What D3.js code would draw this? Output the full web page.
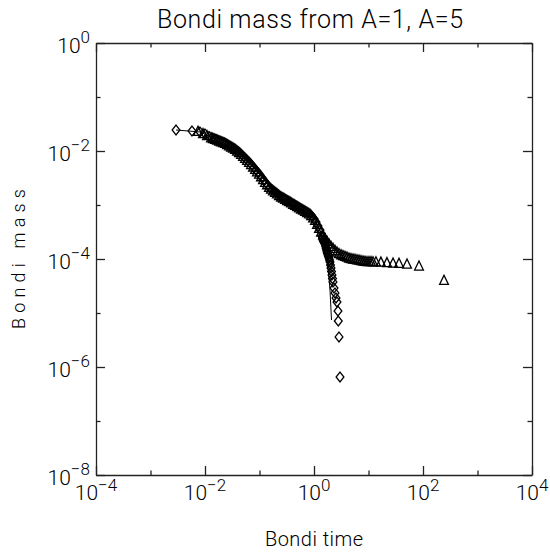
<!DOCTYPE html>
<html>
<head>
<meta charset="utf-8">
<script src="https://cdn.jsdelivr.net/npm/d3@7"></script>
<style>
  html, body { margin: 0; padding: 0; background: #fff; }
  svg text { font-family: 'Roboto', 'DejaVu Sans', sans-serif; font-weight: 300; fill: #000; }
</style>
</head>
<body>
<svg class="bondi" width="550" height="553"></svg>
<script>
// A=1 run (diamonds)
const a1Time = [0.00294, 0.00577, 0.00809, 0.0100, 0.01184,
  0.013441, 0.014625, 0.015914, 0.017317, 0.018844, 0.020505, 0.022312, 0.024279, 0.026419, 0.028748,
  0.031282, 0.034039, 0.03704, 0.040305, 0.043858, 0.047724, 0.051931, 0.056508, 0.061489, 0.066909,
  0.072809, 0.079227, 0.086211, 0.09381, 0.10208, 0.11108, 0.12087, 0.13153, 0.14312, 0.15574,
  0.16947, 0.18441, 0.20067, 0.21836, 0.23761, 0.25855, 0.28135, 0.30615, 0.33314, 0.3631,
  0.3951, 0.43, 0.4679, 0.5091, 0.5534, 0.6022, 0.6553, 0.7131, 0.776, 0.8444,
  0.9189, 1.0, 1.0882, 1.1841, 1.2885, 1.402, 1.432, 1.462, 1.493, 1.525,
  1.558, 1.592, 1.626, 1.661, 1.696, 1.733, 1.769, 1.806, 1.845, 1.884,
  1.925, 1.966, 2.008, 2.05, 2.095, 2.138, 2.185, 2.231, 2.327, 2.427,
  2.535, 2.642, 2.754, 2.79, 2.877, 3.0];
const a1Mass = [0.0245, 0.0234, 0.0225, 0.0207, 0.01864,
  0.01756, 0.01697, 0.0164, 0.01585, 0.01532, 0.01481, 0.01431, 0.01371, 0.01303, 0.01238,
  0.01176, 0.01117, 0.01052, 0.00983, 0.00918, 0.00843, 0.00774, 0.00711, 0.00653, 0.00599,
  0.00541, 0.00489, 0.00441, 0.00398, 0.00359, 0.00319, 0.00283, 0.00253, 0.00229, 0.00206,
  0.00193, 0.0018, 0.00168, 0.00157, 0.00147, 0.00139, 0.00133, 0.00126, 0.0012, 0.00114,
  0.00108, 0.00103, 9.75e-4, 9.26e-4, 8.8e-4, 8.36e-4, 7.94e-4, 7.55e-4, 7.17e-4, 6.81e-4,
  6.15e-4, 5.55e-4, 4.84e-4, 4.08e-4, 3.44e-4, 2.67e-4, 2.45e-4, 2.25e-4, 2.15e-4, 2.07e-4,
  1.98e-4, 1.9e-4, 1.74e-4, 1.6e-4, 1.47e-4, 1.35e-4, 1.26e-4, 1.19e-4, 1.11e-4, 1.04e-4,
  9.58e-5, 8.8e-5, 7.74e-5, 6.81e-5, 5.87e-5, 5.06e-5, 4.36e-5, 3.75e-5, 2.9e-5, 2.35e-5,
  1.9e-5, 1.6e-5, 1.09e-5, 7.11e-6, 3.6e-6, 6.53e-7];

// A=5 run (triangles)
const a5Time = [0.00745, 0.00919, 0.010882, 0.012885,
  0.01402, 0.015256, 0.016601, 0.018064, 0.019656, 0.021389, 0.023275, 0.025326, 0.027559, 0.029988,
  0.032632, 0.035508, 0.038638, 0.042044, 0.04575, 0.049783, 0.054171, 0.058946, 0.064142, 0.069797,
  0.07595, 0.082645, 0.08993, 0.097858, 0.10649, 0.11587, 0.12609, 0.1372, 0.1493, 0.16246,
  0.17678, 0.19237, 0.20933, 0.22778, 0.24786, 0.26971, 0.29349, 0.31936, 0.34751, 0.3788,
  0.4122, 0.4485, 0.4881, 0.5311, 0.5773, 0.6282, 0.6836, 0.7439, 0.8095, 0.8809,
  0.9585, 1.0432, 1.1352, 1.2352, 1.3441, 1.4625, 1.5914, 1.7317, 1.8844, 2.0505,
  2.2312, 2.4279, 2.6419, 2.8748, 3.1282, 3.4039, 3.704, 4.0305, 4.3858, 4.7724,
  5.1931, 5.6508, 6.1489, 6.6909, 7.2809, 7.9227, 8.6211, 9.381, 10.208, 11.108,
  12.087, 13.7, 16.9, 21.8, 28.2, 36.3, 50.9, 84.5, 243];
const a5Mass = [0.0234, 0.02136, 0.01962, 0.01786,
  0.01726, 0.01668, 0.01612, 0.01558, 0.01506, 0.01455, 0.01406, 0.01336, 0.0127, 0.01207,
  0.01147, 0.01089, 0.01017, 0.0095, 0.0088, 0.00808, 0.00742, 0.00681, 0.00626, 0.0057,
  0.00514, 0.00464, 0.00419, 0.00378, 0.00339, 0.003, 0.00267, 0.00241, 0.00217, 0.002,
  0.00186, 0.00174, 0.00163, 0.00152, 0.00143, 0.00136, 0.00129, 0.00123, 0.00117, 0.00111,
  0.00105, 0.001, 9.5e-4, 9.03e-4, 8.58e-4, 8.15e-4, 7.74e-4, 7.36e-4, 6.99e-4, 6.48e-4,
  5.85e-4, 5.27e-4, 4.45e-4, 3.75e-4, 3.22e-4, 2.81e-4, 2.45e-4, 2.17e-4, 1.93e-4, 1.74e-4,
  1.6e-4, 1.47e-4, 1.37e-4, 1.28e-4, 1.22e-4, 1.18e-4, 1.14e-4, 1.1e-4, 1.06e-4, 1.035e-4,
  1.017e-4, 1.0e-4, 9.83e-5, 9.66e-5, 9.5e-5, 9.34e-5, 9.18e-5, 9.14e-5, 9.11e-5, 9.07e-5,
  9.03e-5, 8.99e-5, 8.87e-5, 8.69e-5, 8.54e-5, 8.43e-5, 8.18e-5, 7.52e-5, 4.08e-5];

// solid reference curve
const lineTime = [0.00294, 0.00809, 0.01884, 0.04385, 0.1021, 0.2377, 0.5534, 1.042, 1.288, 1.462,
  1.592, 1.733, 1.806, 1.884, 1.966, 2.008, 2.05, 2.095];
const lineMass = [0.0245, 0.0225, 0.01531, 0.00918, 0.0036, 0.00147, 8.8e-4, 5.27e-4, 3.44e-4, 2.25e-4,
  1.6e-4, 1.04e-4, 6.81e-5, 4.45e-5, 2.67e-5, 1.74e-5, 1.14e-5, 7.42e-6];

// axis ticks
const xMajor = [1e-4, 1e-2, 1e0, 1e2, 1e4];
const xMinor = [1e-3, 1e-1, 1e1, 1e3];
const xExp = ['\u22124', '\u22122', '0', '2', '4'];
const yMajor = [1e0, 1e-2, 1e-4, 1e-6, 1e-8];
const yMinor = [1e-1, 1e-3, 1e-5, 1e-7];
const yExp = ['0', '\u22122', '\u22124', '\u22126', '\u22128'];

function draw() {
  const left = 96, right = 532, top = 43, bottom = 475;
  const svg = d3.select('svg.bondi');

  const x = d3.scaleLog().domain([1e-4, 1e4]).range([left, right]);
  const y = d3.scaleLog().domain([1e0, 1e-8]).range([top, bottom]);

  // frame with inward ticks on all four sides
  const axes = [
    {gen: d3.axisBottom(x), tr: `translate(0,${bottom})`, maj: xMajor, min: xMinor},
    {gen: d3.axisTop(x), tr: `translate(0,${top})`, maj: xMajor, min: xMinor},
    {gen: d3.axisLeft(y), tr: `translate(${left},0)`, maj: yMajor, min: yMinor},
    {gen: d3.axisRight(y), tr: `translate(${right},0)`, maj: yMajor, min: yMinor}
  ];
  axes.forEach(a => {
    const g = svg.append('g').attr('transform', a.tr);
    g.call(a.gen.tickValues(a.maj).tickSizeInner(-9).tickSizeOuter(0).tickFormat(''));
    const gm = svg.append('g').attr('transform', a.tr);
    gm.call(a.gen.tickValues(a.min).tickSizeInner(-4.5).tickSizeOuter(0).tickFormat(''));
    gm.select('.domain').remove();
    [g, gm].forEach(s => {
      s.selectAll('path, line').attr('stroke', '#222').attr('stroke-width', 1.3);
    });
  });

  // tick labels, 10 with superscript exponent
  svg.selectAll('text.xlab')
      .data(xMajor)
      .enter()
      .append('text')
      .attr('class', 'xlab')
      .attr('x', d => x(d))
      .attr('y', 500)
      .style('text-anchor', 'middle')
      .style('font-size', '21px')
      .each(function(d, i) {
        const t = d3.select(this);
        t.append('tspan').text('10');
        t.append('tspan').attr('dy', -9).style('font-size', '17px').text(xExp[i]);
      });

  svg.selectAll('text.ylab')
      .data(yMajor)
      .enter()
      .append('text')
      .attr('class', 'ylab')
      .attr('x', 90)
      .attr('y', d => y(d) + 10)
      .style('text-anchor', 'end')
      .style('font-size', '21px')
      .each(function(d, i) {
        const t = d3.select(this);
        t.append('tspan').text('10');
        t.append('tspan').attr('dy', -10).style('font-size', '17px').text(yExp[i]);
      });

  // titles
  svg.append('text')
      .attr('x', 310).attr('y', 28)
      .attr('textLength', 306)
      .attr('lengthAdjust', 'spacing')
      .style('text-anchor', 'middle')
      .style('font-size', '25px')
      .text('Bondi mass from A=1, A=5');

  svg.append('text')
      .attr('x', 314).attr('y', 546)
      .attr('textLength', 98)
      .attr('lengthAdjust', 'spacing')
      .style('text-anchor', 'middle')
      .style('font-size', '20px')
      .text('Bondi time');

  svg.append('text')
      .attr('transform', 'translate(25,259) rotate(-90)')
      .attr('textLength', 140)
      .attr('lengthAdjust', 'spacing')
      .style('text-anchor', 'middle')
      .style('font-size', '18px')
      .text('Bondi mass');

  // solid curve
  const line = d3.line()
                 .x(d => x(d[0]))
                 .y(d => y(d[1]));
  svg.append('path')
      .datum(lineTime.map((t, i) => [t, lineMass[i]]))
      .attr('d', line)
      .style('fill', 'none')
      .style('stroke', '#000')
      .style('stroke-width', 1);

  // diamonds
  svg.selectAll('path.dia')
      .data(a1Time.map((t, i) => [t, a1Mass[i]]))
      .enter()
      .append('path')
      .attr('class', 'dia')
      .attr('transform', d => `translate(${x(d[0])},${y(d[1])})`)
      .attr('d', 'M0,-4.9L3.9,0L0,4.9L-3.9,0Z')
      .style('fill', 'none')
      .style('stroke', '#000')
      .style('stroke-width', 1.3);

  // triangles
  svg.selectAll('path.tri')
      .data(a5Time.map((t, i) => [t, a5Mass[i]]))
      .enter()
      .append('path')
      .attr('class', 'tri')
      .attr('transform', d => `translate(${x(d[0])},${y(d[1])})`)
      .attr('d', 'M0,-4.7L4.4,4.4L-4.4,4.4Z')
      .style('fill', 'none')
      .style('stroke', '#000')
      .style('stroke-width', 1.3);
}

draw();
</script>
</body>
</html>
